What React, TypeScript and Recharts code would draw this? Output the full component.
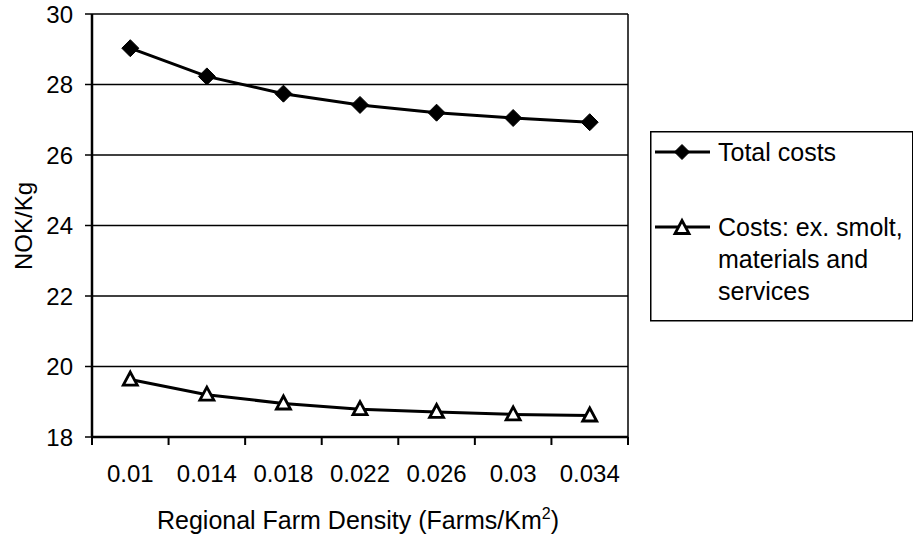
import React from 'react';
import { LineChart, Line, XAxis, YAxis, CartesianGrid, Legend, Label } from 'recharts';

const densities = ['0.01', '0.014', '0.018', '0.022', '0.026', '0.03', '0.034'];
const totalCosts = [29.03, 28.23, 27.74, 27.42, 27.2, 27.05, 26.93];
const costsExSmolt = [19.63, 19.2, 18.95, 18.79, 18.71, 18.64, 18.61];
const yTicks = [18, 20, 22, 24, 26, 28, 30];

const chartData = densities.map((d, i) => ({
  density: d,
  total: totalCosts[i],
  exSmolt: costsExSmolt[i],
}));

const FONT = 'Arial, "Liberation Sans", Helvetica, sans-serif';
const W = 913;
const H = 540;
const MARGIN = { top: 14, right: 285, bottom: 0, left: 0 };
const Y_AXIS_W = 92;
const X_AXIS_H = 103;
const PLOT_W = W - MARGIN.left - MARGIN.right - Y_AXIS_W;
const BAND = PLOT_W / densities.length;

const Diamond = ({ cx, cy, s = 8.5 }: { cx: number; cy: number; s?: number }) => (
  <polygon points={`${cx},${cy - s} ${cx + s},${cy} ${cx},${cy + s} ${cx - s},${cy}`} fill="#000" stroke="#000" />
);

const Triangle = ({ cx, cy }: { cx: number; cy: number }) => (
  <polygon
    points={`${cx},${cy - 7.5} ${cx + 7},${cy + 5.5} ${cx - 7},${cy + 5.5}`}
    fill="#fff"
    stroke="#000"
    strokeWidth={2.8}
    strokeLinejoin="miter"
  />
);

const renderDiamond = (props: any) => <Diamond key={`d-${props.index}`} cx={props.cx} cy={props.cy} />;
const renderTriangle = (props: any) => <Triangle key={`t-${props.index}`} cx={props.cx} cy={props.cy} />;

const XTick = (props: any) => {
  const { x, y, payload, index } = props;
  const left = x - BAND / 2;
  const right = x + BAND / 2;
  return (
    <g>
      <line x1={left} y1={y} x2={left} y2={y + 8} stroke="#000" strokeWidth={2} />
      {index === densities.length - 1 && (
        <line x1={right} y1={y} x2={right} y2={y + 8} stroke="#000" strokeWidth={2} />
      )}
      <text x={x} y={y + 45} textAnchor="middle" fontSize={24} fontFamily={FONT} fill="#000">
        {payload.value}
      </text>
    </g>
  );
};

const XAxisTitle = (props: any) => {
  const { x, y, width } = props.viewBox;
  return (
    <text x={x + width / 2 - 2} y={y + 92} textAnchor="middle" fontSize={25} fontFamily={FONT} fill="#000">
      Regional Farm Density (Farms/Km
      <tspan fontSize={16} dy={-10}>2</tspan>
      <tspan dy={10}>)</tspan>
    </text>
  );
};

const YAxisTitle = () => (
  <text
    x={32}
    y={226}
    transform="rotate(-90, 32, 226)"
    textAnchor="middle"
    fontSize={24}
    fontFamily={FONT}
    fill="#000"
  >
    NOK/Kg
  </text>
);

const LegendBox = () => (
  <svg width={263} height={191} style={{ display: 'block' }}>
    <rect x={0.75} y={0.75} width={262} height={189} fill="#fff" stroke="#000" strokeWidth={1.5} />
    <line x1={5} y1={21} x2={60} y2={21} stroke="#000" strokeWidth={3} />
    <Diamond cx={32} cy={21} s={7.5} />
    <text x={68} y={30} fontSize={25} fontFamily={FONT} fill="#000">Total costs</text>
    <line x1={5} y1={96} x2={60} y2={96} stroke="#000" strokeWidth={3} />
    <Triangle cx={32} cy={97} />
    <text x={68} y={105} fontSize={25} fontFamily={FONT} fill="#000">Costs: ex. smolt,</text>
    <text x={68} y={137} fontSize={25} fontFamily={FONT} fill="#000">materials and</text>
    <text x={68} y={169} fontSize={25} fontFamily={FONT} fill="#000">services</text>
  </svg>
);

// right edge of the plot frame
const frameRight = ({ offset }: any) => [offset.left + offset.width];

export default function App() {
  return (
    <div style={{ position: 'absolute', left: 0, top: 0, width: W, height: H, background: '#fff' }}>
      <LineChart width={W} height={H} data={chartData} margin={MARGIN}>
        <CartesianGrid
          stroke="#000"
          strokeWidth={1.5}
          verticalCoordinatesGenerator={frameRight}
        />
        <XAxis
          dataKey="density"
          height={X_AXIS_H}
          padding={{ left: BAND / 2, right: BAND / 2 }}
          axisLine={{ stroke: '#000', strokeWidth: 2.5 }}
          tickLine={false}
          tickSize={0}
          tickMargin={0}
          interval={0}
          tick={<XTick />}
        >
          <Label content={<XAxisTitle />} />
        </XAxis>
        <YAxis
          width={Y_AXIS_W}
          domain={[18, 30]}
          ticks={yTicks}
          interval={0}
          axisLine={{ stroke: '#000', strokeWidth: 2.5 }}
          tickLine={{ stroke: '#000', strokeWidth: 1.5 }}
          tickSize={7}
          tickMargin={12}
          tick={{ fill: '#000', fontSize: 24, fontFamily: FONT }}
        >
          <Label content={<YAxisTitle />} />
        </YAxis>
        <Legend
          layout="horizontal"
          verticalAlign="middle"
          align="center"
          content={<LegendBox />}
          wrapperStyle={{ position: 'absolute', left: 650, top: 131, width: 263, height: 191 }}
        />
        <Line
          type="linear"
          dataKey="total"
          name="Total costs"
          stroke="#000"
          strokeWidth={3}
          dot={renderDiamond}
          activeDot={false}
          isAnimationActive={false}
        />
        <Line
          type="linear"
          dataKey="exSmolt"
          name="Costs: ex. smolt, materials and services"
          stroke="#000"
          strokeWidth={3}
          dot={renderTriangle}
          activeDot={false}
          isAnimationActive={false}
        />
      </LineChart>
    </div>
  );
}
